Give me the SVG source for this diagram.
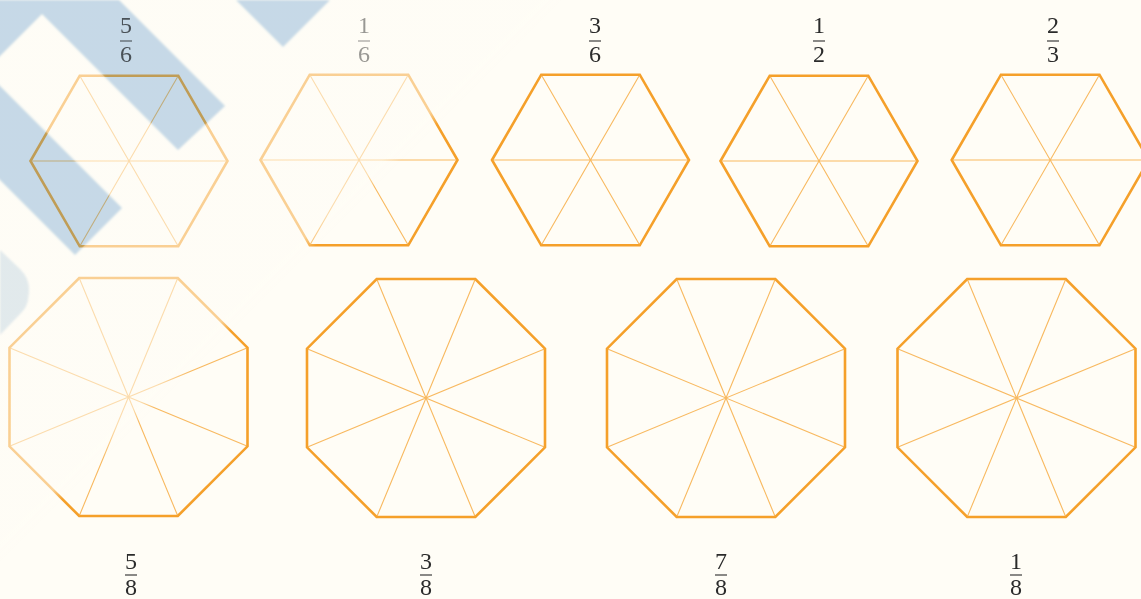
<svg xmlns="http://www.w3.org/2000/svg" xmlns:xlink="http://www.w3.org/1999/xlink" width="1141" height="599" viewBox="0 0 1141 599">
<style>
.edge{fill:none;stroke:#f5a02a;stroke-width:2.6;stroke-linejoin:miter}
.spoke{fill:none;stroke:#f6a73a;stroke-width:1.1;stroke-opacity:0.8}
.num{font-family:"Liberation Serif","Times New Roman",serif;font-size:24px;fill:#2b2b2b;text-anchor:middle}
.bar{stroke:#2b2b2b;stroke-width:1.1}
.wm{fill:#c6dbf0}
.wm2{fill:#e2ecf5}
.blend{mix-blend-mode:multiply}
</style>
<defs>
<g id="hex">
<polygon class="edge" points="-98.5,0 -49.25,-85.3 49.25,-85.3 98.5,0 49.25,85.3 -49.25,85.3"/>
<path class="spoke" d="M-98.5,0H98.5M-49.25,-85.3L49.25,85.3M49.25,-85.3L-49.25,85.3"/>
</g>
<g id="oct">
<polygon class="edge" points="-49.3,-119 49.3,-119 119,-49.3 119,49.3 49.3,119 -49.3,119 -119,49.3 -119,-49.3"/>
<path class="spoke" d="M-49.3,-119L49.3,119M49.3,-119L-49.3,119M119,-49.3L-119,49.3M119,49.3L-119,-49.3"/>
</g>
<linearGradient id="fade" gradientUnits="userSpaceOnUse" x1="271" y1="271" x2="281" y2="281">
<stop offset="0" stop-color="#fffdf6" stop-opacity="0.52"/>
<stop offset="1" stop-color="#fffdf6" stop-opacity="0"/>
</linearGradient>
<filter id="soft" x="-10%" y="-10%" width="120%" height="120%">
<feGaussianBlur stdDeviation="0.8"/>
</filter>
<mask id="noBlue" maskUnits="userSpaceOnUse" x="0" y="0" width="1141" height="599">
<rect x="0" y="0" width="1141" height="599" fill="#fff"/>
<polygon fill="#777" points="-100,0 119,0 225,106 178,150 42,14 -15,71 122,208 75,255 -100,80"/>
<polygon fill="#777" points="236,0 330,0 283,47"/>
</mask>
</defs>
<rect x="0" y="0" width="1141" height="599" fill="#fffdf6"/>

<g id="hex-5-6">
<use xlink:href="#hex" href="#hex" x="129" y="161"/>
<text class="num" x="126" y="33">5</text><line class="bar" x1="120" y1="41" x2="132" y2="41"/><text class="num" x="126" y="62">6</text>
</g>
<g id="hex-1-6">
<use xlink:href="#hex" href="#hex" x="359" y="160"/>
<text class="num" x="364" y="33">1</text><line class="bar" x1="358" y1="41" x2="370" y2="41"/><text class="num" x="364" y="62">6</text>
</g>
<g id="hex-3-6">
<use xlink:href="#hex" href="#hex" x="590.5" y="160"/>
<text class="num" x="595" y="33">3</text><line class="bar" x1="589" y1="41" x2="601" y2="41"/><text class="num" x="595" y="62">6</text>
</g>
<g id="hex-1-2">
<use xlink:href="#hex" href="#hex" x="819" y="161"/>
<text class="num" x="819" y="33">1</text><line class="bar" x1="813" y1="41" x2="825" y2="41"/><text class="num" x="819" y="62">2</text>
</g>
<g id="hex-2-3">
<use xlink:href="#hex" href="#hex" x="1050.2" y="160"/>
<text class="num" x="1053" y="33">2</text><line class="bar" x1="1047" y1="41" x2="1059" y2="41"/><text class="num" x="1053" y="62">3</text>
</g>

<g id="oct-5-8">
<use xlink:href="#oct" href="#oct" x="128.5" y="397"/>
<text class="num" x="131" y="569">5</text><line class="bar" x1="125" y1="575" x2="137" y2="575"/><text class="num" x="131" y="595">8</text>
</g>
<g id="oct-3-8">
<use xlink:href="#oct" href="#oct" x="426" y="398"/>
<text class="num" x="426" y="569">3</text><line class="bar" x1="420" y1="575" x2="432" y2="575"/><text class="num" x="426" y="595">8</text>
</g>
<g id="oct-7-8">
<use xlink:href="#oct" href="#oct" x="726" y="398"/>
<text class="num" x="721" y="569">7</text><line class="bar" x1="715" y1="575" x2="727" y2="575"/><text class="num" x="721" y="595">8</text>
</g>
<g id="oct-1-8">
<use xlink:href="#oct" href="#oct" x="1016.5" y="398"/>
<text class="num" x="1016" y="569">1</text><line class="bar" x1="1010" y1="575" x2="1022" y2="575"/><text class="num" x="1016" y="595">8</text>
</g>

<g id="watermark">
<rect x="0" y="0" width="1141" height="599" fill="url(#fade)" mask="url(#noBlue)"/>
<g class="blend" filter="url(#soft)">
<polygon class="wm" points="-100,0 119,0 225,106 178,150 42,14 -15,71 122,208 75,255 -100,80"/>
<polygon class="wm" points="236,0 330,0 283,47"/>
<path class="wm2" d="M0,250 L20,269 Q30,279 29,292 L28,300 Q27,307 21,313 L0,335 Z"/>
</g>
</g>
</svg>
